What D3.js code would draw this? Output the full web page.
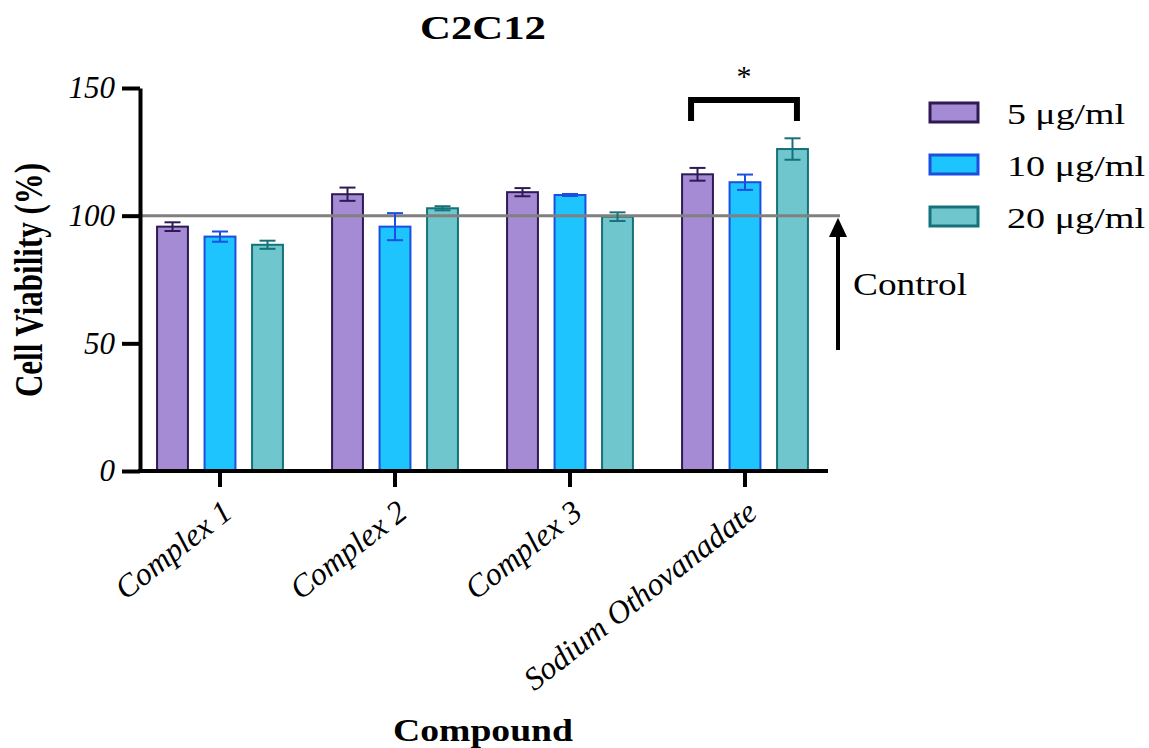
<!DOCTYPE html>
<html>
<head>
<meta charset="utf-8">
<script src="https://cdn.jsdelivr.net/npm/d3@7"></script>
<style>
  body { margin: 0; background: #fff; }
  svg { display: block; font-family: "Liberation Serif", "Times New Roman", serif; }
</style>
</head>
<body>
<svg id="chart" width="1149" height="748"></svg>
<script>
var categories = ["Complex 1", "Complex 2", "Complex 3", "Sodium Othovanadate"];
var series = ["5 μg/ml", "10 μg/ml", "20 μg/ml"];
var means5  = [95.7, 108.4, 109.2, 116.2];
var sd5     = [1.7, 2.6, 1.6, 2.5];
var means10 = [91.8, 95.7, 108.1, 113.1];
var sd10    = [2.0, 5.3, 0.4, 3.0];
var means20 = [88.6, 102.9, 99.6, 126.1];
var sd20    = [1.6, 0.8, 1.7, 4.2];
var yTicks = [0, 50, 100, 150];
var controlValue = 100;

var fills   = ["#a48bd3", "#1ec4fd", "#6fc6cc"];
var strokes = ["#2e1a55", "#1a4fe0", "#16727a"];

var means = [means5, means10, means20];
var sds = [sd5, sd10, sd20];

var svg = d3.select("#chart");

var y = d3.scaleLinear().domain([0, 150]).range([471, 88]);
var x0 = d3.scaleBand().domain(categories).range([132.5, 832.5]);
var x1 = d3.scaleBand().domain(series)
    .range([x0.bandwidth() / 2 - 71.25, x0.bandwidth() / 2 + 71.25])
    .paddingInner(0.35).paddingOuter(0.175);

// data rows
var data = [];
categories.forEach(function(c, i) {
    series.forEach(function(s, j) {
        data.push({cat: c, ser: s, j: j, v: means[j][i], sd: sds[j][i]});
    });
});

// bars
svg.selectAll("rect.bar").data(data).enter()
    .append("rect")
    .attr("class", "bar")
    .attr("x", function(d) { return x0(d.cat) + x1(d.ser); })
    .attr("y", function(d) { return y(d.v); })
    .attr("width", x1.bandwidth())
    .attr("height", function(d) { return y(0) - y(d.v); })
    .attr("fill", function(d) { return fills[d.j]; })
    .attr("stroke", function(d) { return strokes[d.j]; })
    .attr("stroke-width", 2);

// control line (on top of bars)
svg.append("line")
    .attr("x1", 138).attr("x2", 840)
    .attr("y1", y(controlValue)).attr("y2", y(controlValue))
    .attr("stroke", "#808080").attr("stroke-width", 3);

// error bars
var err = svg.selectAll("g.err").data(data).enter()
    .append("g")
    .attr("class", "err")
    .attr("stroke", function(d) { return strokes[d.j]; })
    .attr("stroke-width", 2);
err.append("line")
    .attr("x1", function(d) { return x0(d.cat) + x1(d.ser) + x1.bandwidth() / 2; })
    .attr("x2", function(d) { return x0(d.cat) + x1(d.ser) + x1.bandwidth() / 2; })
    .attr("y1", function(d) { return y(d.v + d.sd); })
    .attr("y2", function(d) { return y(d.v - d.sd); });
[1, -1].forEach(function(sign) {
    err.append("line")
        .attr("x1", function(d) { return x0(d.cat) + x1(d.ser) + x1.bandwidth() / 2 - 8; })
        .attr("x2", function(d) { return x0(d.cat) + x1(d.ser) + x1.bandwidth() / 2 + 8; })
        .attr("y1", function(d) { return y(d.v + sign * d.sd); })
        .attr("y2", function(d) { return y(d.v + sign * d.sd); });
});

// y axis
var yAxis = svg.append("g")
    .attr("transform", "translate(140,0)")
    .call(d3.axisLeft(y).tickValues(yTicks).tickSize(18).tickPadding(7).tickSizeOuter(0));
yAxis.select(".domain").attr("stroke", "#000").attr("stroke-width", 4);
yAxis.selectAll(".tick line").attr("stroke", "#000").attr("stroke-width", 4);
yAxis.selectAll(".tick text")
    .attr("font-family", "Liberation Serif")
    .attr("font-style", "italic")
    .attr("font-size", 31)
    .attr("fill", "#000");

// x axis
var xAxis = svg.append("g")
    .attr("transform", "translate(0,471)")
    .call(d3.axisBottom(x0).tickSize(16).tickSizeOuter(0).tickFormat(""));
xAxis.select(".domain").attr("d", "M138,0H828").attr("stroke", "#000").attr("stroke-width", 4);
xAxis.selectAll(".tick line").attr("stroke", "#000").attr("stroke-width", 4);

// rotated category labels
svg.selectAll("text.cat").data(categories).enter()
    .append("text")
    .attr("class", "cat")
    .attr("transform", function(d) {
        return "translate(" + (x0(d) + x0.bandwidth() / 2 + 14) + ",516) rotate(-38)";
    })
    .attr("text-anchor", "end")
    .attr("font-style", "italic")
    .attr("font-size", 32)
    .text(function(d) { return d; });

// titles
svg.append("text")
    .attr("x", 483).attr("y", 39)
    .attr("text-anchor", "middle")
    .attr("font-weight", "bold").attr("font-size", 34)
    .attr("textLength", 126).attr("lengthAdjust", "spacingAndGlyphs")
    .text("C2C12");

svg.append("text")
    .attr("x", 483).attr("y", 741)
    .attr("text-anchor", "middle")
    .attr("font-weight", "bold").attr("font-size", 31)
    .attr("textLength", 180).attr("lengthAdjust", "spacingAndGlyphs")
    .text("Compound");

svg.append("text")
    .attr("transform", "translate(42,280) scale(1.3,1) rotate(-90)")
    .attr("text-anchor", "middle")
    .attr("font-weight", "bold").attr("font-size", 31)
    .text("Cell Viability (%)");

// significance bracket
var bL = x0(categories[3]) + x1(series[0]) + 9;
var bR = x0(categories[3]) + x1(series[2]) + x1.bandwidth() - 11;
svg.append("path")
    .attr("d", "M" + bL + "," + y(137.1) + "V" + y(145.3) + "H" + bR + "V" + y(137.1))
    .attr("fill", "none").attr("stroke", "#000").attr("stroke-width", 6);
svg.append("text")
    .attr("x", (bL + bR) / 2).attr("y", 86)
    .attr("text-anchor", "middle")
    .attr("font-size", 30)
    .text("*");

// control arrow
svg.append("line")
    .attr("x1", 838).attr("x2", 838).attr("y1", 350).attr("y2", 234)
    .attr("stroke", "#000").attr("stroke-width", 4);
svg.append("path")
    .attr("d", "M838," + (y(controlValue) + 2) + "L847,237L829,237Z")
    .attr("fill", "#000");
svg.append("text")
    .attr("x", 853).attr("y", 295)
    .attr("font-size", 32)
    .attr("textLength", 114).attr("lengthAdjust", "spacingAndGlyphs")
    .text("Control");

// legend
var legendLen = [118, 138, 138];
var leg = svg.selectAll("g.leg").data(series).enter()
    .append("g")
    .attr("class", "leg")
    .attr("transform", function(d, i) { return "translate(930," + (103 + i * 52) + ")"; });
leg.append("rect")
    .attr("width", 48).attr("height", 19)
    .attr("fill", function(d, i) { return fills[i]; })
    .attr("stroke", function(d, i) { return strokes[i]; })
    .attr("stroke-width", 3);
leg.append("text")
    .attr("x", 77).attr("y", 21)
    .attr("font-size", 29)
    .attr("textLength", function(d, i) { return legendLen[i]; })
    .attr("lengthAdjust", "spacingAndGlyphs")
    .text(function(d) { return d; });
</script>
</body>
</html>
